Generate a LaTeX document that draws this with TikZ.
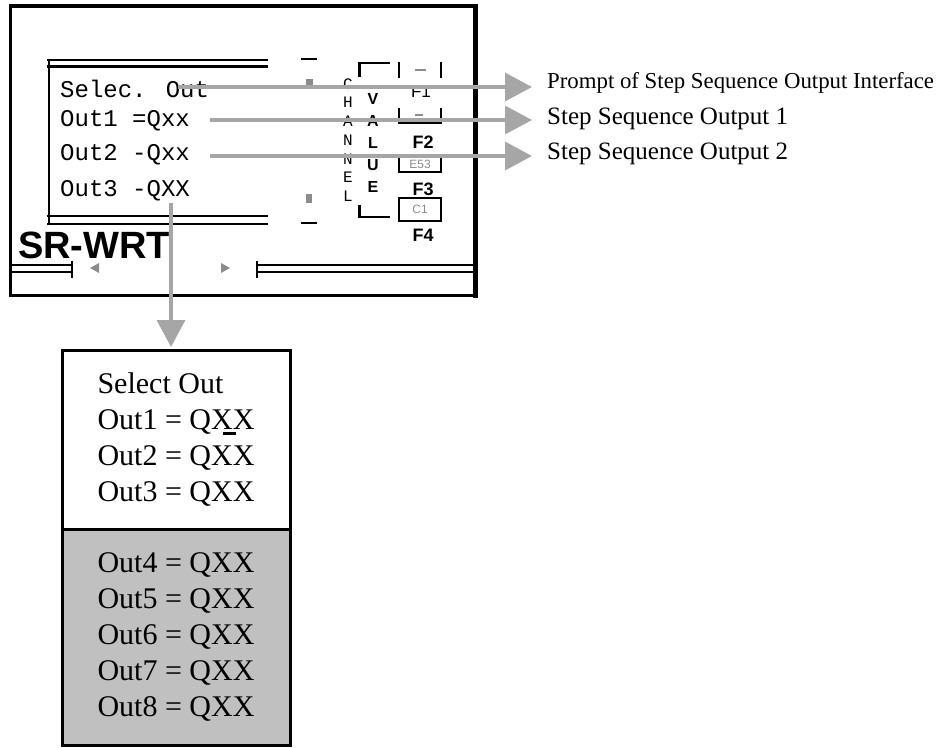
\documentclass[tikz,border=0pt]{standalone}
\usepackage{fontspec}
\setmainfont{Liberation Serif}
\newfontfamily\monof{Liberation Mono}
\newfontfamily\sansf{Liberation Sans}
\usetikzlibrary{arrows.meta}
\definecolor{arrg}{RGB}{166,166,166}
\definecolor{boxg}{RGB}{192,192,192}
\definecolor{dimg}{RGB}{140,140,140}
\begin{document}
\begin{tikzpicture}[x=1pt,y=-1pt,
  scr/.style={font=\monof\fontsize{24}{24}\selectfont, inner sep=0, anchor=base west},
  lab/.style={font=\fontsize{22.8}{24}\selectfont, inner sep=0, anchor=base west},
  labb/.style={font=\fontsize{25}{26}\selectfont, inner sep=0, anchor=base west},
  arr/.style={draw=arrg, line width=3.5pt, -{Triangle[length=27pt,width=28pt]}},
  frame/.style={draw=black, line width=2.5pt},
  fkey/.style={font=\sansf\bfseries\fontsize{18}{18}\selectfont, inner sep=0},
  outbox/.style={draw=black, line width=3pt, align=left, inner sep=0,
    minimum width=228pt, font=\fontsize{30}{36}\selectfont}
]
\path[fill=white] (0,0) rectangle (947,747);
\useasboundingbox (0,0) rectangle (947,747);

% ---- screen outer frame
\draw[line width=4pt] (9,6) -- (477,6);
\draw[line width=5pt] (475.5,4) -- (475.5,298);
\draw[line width=2.5pt] (10.5,4) -- (10.5,297);
\draw[line width=2.5pt] (9,295.5) -- (478,295.5);

% ---- inner list frame
\draw[line width=2pt] (47,60) -- (268,60);
\draw[line width=3.5pt] (47,66.5) -- (268,66.5);
\draw[frame] (49,60) -- (49,224);
\draw[frame] (47,216) -- (268,216);
\draw[line width=2pt] (47,223.5) -- (268,223.5);

% ---- screen text
\node[scr] (t1) at (60,97) {Selec. Out};
\node[scr] (t2) at (60,126) {Out1 =Qxx};
\node[scr] (t3) at (60,160) {Out2 -Qxx};
\node[scr] (t4) at (60,196) {Out3 -QXX};

% ---- scroll marks
\draw[frame] (301,59) -- (317,59);
\draw[frame] (301,223) -- (317,223);
\fill[dimg] (306,79) rectangle (313,87);
\fill[dimg] (306,194) rectangle (312,203);

% ---- CHANNEL / VALUE
\node[font=\monof\fontsize{16}{18.7}\selectfont, align=center, inner sep=0] (chn) at (348,140) {C\\H\\A\\N\\N\\E\\L};
\node[font=\sansf\bfseries\fontsize{16}{22}\selectfont, align=center, inner sep=0] (val) at (373,143) {V\\A\\L\\U\\E};
\draw[frame] (359.5,77) -- (359.5,63) -- (390,63);
\draw[frame] (359.5,205) -- (359.5,217) -- (390,217);

% ---- function keys
\draw[frame] (399,62) -- (399,78);
\draw[frame] (441,62) -- (441,78);
\draw[line width=2pt, dimg] (415,70) -- (426,70);
\node[fkey, font=\sansf\fontsize{17}{17}\selectfont] (f1) at (421,92) {F1};
\draw[frame] (399,108) -- (399,122.5) -- (441,122.5) -- (441,108);
\draw[line width=2pt, dimg] (415,115) -- (423,115);
\node[fkey] (f2) at (423,142) {F2};
\draw[frame] (399,157) rectangle (441,172);
\node[font=\sansf\fontsize{12}{12}\selectfont, text=dimg, inner sep=0] (k3) at (420,164.5) {E53};
\node[fkey] (f3) at (423,189) {F3};
\draw[frame] (399,198) rectangle (441,221);
\node[font=\sansf\fontsize{12}{12}\selectfont, text=dimg, inner sep=0] (k4) at (420,209.5) {C1};
\node[fkey] (f4) at (423,235) {F4};

% ---- title and bottom bar
\node[font=\sansf\bfseries\fontsize{38}{38}\selectfont, anchor=base west, inner sep=0] (srwrt) at (18,258) {SR-WRT};
\draw[line width=2pt] (10,265) -- (72,265);
\draw[line width=2pt] (10,272) -- (72,272);
\draw[frame] (72,261) -- (72,278);
\fill[dimg] (90,268) -- (99,263) -- (99,273) -- cycle;
\fill[dimg] (230,268) -- (221,263) -- (221,273) -- cycle;
\draw[frame] (257,261) -- (257,278);
\draw[line width=2pt] (257,265) -- (475,265);
\draw[line width=2pt] (257,272) -- (475,272);

% ---- labels
\node[lab] (l1) at (547,88.5) {Prompt of Step Sequence Output Interface};
\node[labb] (l2) at (547,124.5) {Step Sequence Output 1};
\node[labb] (l3) at (547,159.5) {Step Sequence Output 2};

% ---- lower box
\node[outbox, fill=white, minimum height=179pt] (sel) at (176,439.5)
  {Select Out\\Out1 = Q\rlap{\hspace{0.4em}\rule[-0.17em]{0.43em}{0.1em}}XX\\Out2 = QXX\\Out3 = QXX};
\node[outbox, fill=boxg, minimum height=216pt] (more) at (176,637)
  {Out4 = QXX\\Out5 = QXX\\Out6 = QXX\\Out7 = QXX\\Out8 = QXX};

% ---- arrows
\coordinate (a1) at (178,87);
\coordinate (a2) at (210,120);
\coordinate (a3) at (210,156);
\coordinate (a4) at (171,203);
\draw[arr, shorten >=15pt] (a1) -- (a1 -| l1.west);
\draw[arr, shorten >=15pt] (a2) -- (a2 -| l2.west);
\draw[arr, shorten >=15pt] (a3) -- (a3 -| l3.west);
\draw[arr, shorten >=1.5pt] (a4) -- (a4 |- sel.north);
\end{tikzpicture}
\end{document}
